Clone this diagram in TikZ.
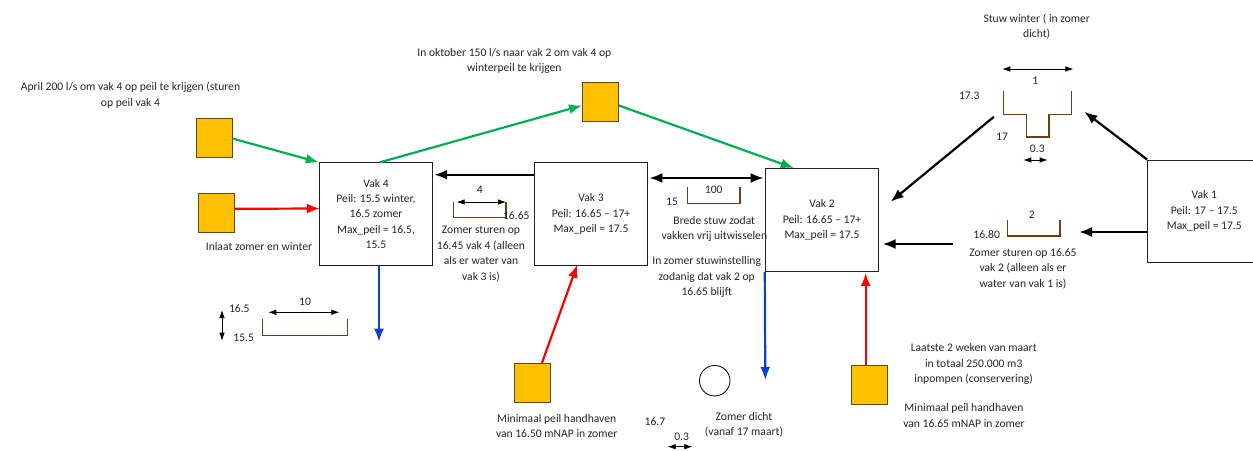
\documentclass[tikz,border=0pt]{standalone}
\usepackage{fontspec}
\setmainfont{Carlito}
\usetikzlibrary{arrows.meta,calc}
\definecolor{gold}{HTML}{FFC000}
\definecolor{goldline}{HTML}{5F4A10}
\definecolor{weirbrown}{HTML}{6E3F12}
\definecolor{greenflow}{HTML}{00B050}
\definecolor{blueflow}{HTML}{0F3FD0}
\definecolor{inkline}{HTML}{222222}
\tikzset{
  base/.style={font=\fontsize{11.6}{15.4}\selectfont,text=black!85},
  label/.style={base,inner sep=0pt,align=center,anchor=center},
  vak/.style={base,draw=inkline,line width=0.9pt,fill=white,inner sep=0pt,align=center,anchor=center,minimum width=113.5pt,minimum height=102.5pt},
  pump/.style={draw=goldline,line width=0.9pt,fill=gold,inner sep=0pt,anchor=center,minimum width=36pt,minimum height=39pt},
  flow/.style={line width=2.2pt,-{Latex[length=13pt,width=10pt]}},
  flowboth/.style={line width=2.2pt,{Latex[length=13pt,width=10pt]}-{Latex[length=13pt,width=10pt]}},
  dim/.style={black,line width=0.7pt,{Latex[length=8pt,width=5.5pt]}-{Latex[length=8pt,width=5.5pt]}},
  weir/.style={draw=weirbrown,line width=1.2pt,line join=miter}
}
\begin{document}
\begin{tikzpicture}[x=1pt,y=-1pt]
\path[clip,use as bounding box] (0,0) rectangle (1253,450);
% boxes
\node[vak] (v4) at (376,214) {Vak 4\\Peil: 15.5 winter,\\16.5 zomer\\Max\_peil = 16.5,\\15.5};
\node[vak] (v3) at (591,214) {Vak 3\\Peil: 16.65 -- 17+\\Max\_peil = 17.5};
\node[vak,minimum height=103pt] (v2) at (822,220) {Vak 2\\Peil: 16.65 -- 17+\\Max\_peil = 17.5};
\node[vak,minimum height=102pt] (v1) at (1204.3,211) {Vak 1\\Peil: 17 -- 17.5\\Max\_peil = 17.5};
% pumps
\node[pump] (s1) at (214,137.5) {};
\node[pump] (s2) at (216.7,212.8) {};
\node[pump] (s3) at (600.5,102) {};
\node[pump] (s4) at (532.3,382.8) {};
\node[pump] (s5) at (869,384.5) {};
\node[draw=black,line width=0.8pt,circle,fill=white,minimum size=30.5pt,inner sep=0pt] (c1) at (714.7,380.7) {};
% free ends
\coordinate (f1) at (379,341.7);
\coordinate (f2) at (765.3,380);
\coordinate (f3) at (953.3,244);
\coordinate (f4) at (1079,232);
\coordinate (f5) at (1084.3,111.7);
\coordinate (f6) at (994,116.7);
\coordinate (f7) at (890.7,201.7);
\coordinate (f8) at (882.7,244);
% flows
\draw[flow,greenflow] (s1.east) ++(0,1) -- (v4.north west);
\draw[flow,greenflow] ($(v4.north)+(4,0)$) -- ($(s3.west)+(0,3.5)$);
\draw[flow,greenflow] ($(s3.east)+(0,3.5)$) -- ($(v2.north west)+(29,0)$);
\draw[flow,red] (s2.east) ++(0,-4) -- ($(v4.west)+(1,-5.5)$);
\draw[flow,blueflow] ($(v4.south)+(3,0)$) -- (f1);
\draw[flow,black] ($(v3.west)+(0,-39.3)$) -- ($(v4.east)+(1,-39.3)$);
\draw[flowboth,black] ($(v3.east)+(1.2,-36)$) -- ($(v2.west)+(-1.2,-42)$);
\draw[flow,red] ($(s4.north)+(9.7,0)$) -- ($(v3.south)+(-13.7,-1)$);
\draw[flow,blueflow] (v2.south west) -- (f2);
\draw[flow,red] ($(s5.north)+(-3.3,0)$) -- ($(v2.south)+(43.7,1)$);
\draw[flow,black] (f3) -- (f8);
\draw[flow,black] ($(v1.west)+(0,21)$) -- (f4);
\draw[flow,black] (v1.north west) -- (f5);
\draw[flow,black] (f6) -- (f7);
% weirs
\draw[weir] (262.3,319.3) -- (262.3,335.3) -- (347.7,335.3) -- (347.7,319.3);
\draw[weir] (453.3,201.7) -- (453.3,217.7) -- (506,217.7) -- (506,201.7);
\draw[weir] (687.3,187.3) -- (687.3,203.3) -- (740,203.3) -- (740,187.3);
\draw[weir] (1007.3,220) -- (1007.3,236) -- (1060,236) -- (1060,220);
\draw[weir] (1003.7,91.3) -- (1003.7,114.3) -- (1026.3,114.3) -- (1026.3,137) -- (1049,137) -- (1049,114.3) -- (1071.7,114.3) -- (1071.7,91.3);
% dimension arrows
\coordinate (d1a) at (268.3,312.3); \coordinate (d1b) at (339.3,312.3);
\coordinate (d2a) at (222,310); \coordinate (d2b) at (222,340.7);
\coordinate (d3a) at (456.7,202); \coordinate (d3b) at (506,202);
\coordinate (d4a) at (1002.3,69); \coordinate (d4b) at (1073.3,69);
\coordinate (d5a) at (1023.3,160); \coordinate (d5b) at (1047.7,160);
\coordinate (d6a) at (667.7,446.7); \coordinate (d6b) at (692.3,446.7);
\draw[dim] (d1a) -- (d1b);
\draw[dim] (d2a) -- (d2b);
\draw[dim] (d3a) -- (d3b);
\draw[dim] (d4a) -- (d4b);
\draw[dim] (d5a) -- (d5b);
\draw[dim] (d6a) -- (d6b);
% labels
\node[label] (t1) at (130.5,95) {April 200 l/s om vak 4 op peil te krijgen (sturen\\op peil vak 4};
\node[label] (t2) at (259,247) {Inlaat zomer en winter};
\node[label] (t3) at (481,254) {Zomer sturen op\\16.45 vak 4 (alleen\\als er water van\\vak 3 is)};
\node[label] (t4) at (516.3,216) {16.65};
\node[label] (t5) at (479.7,190) {4};
\node[label] (t6) at (713.7,190) {100};
\node[label] (t7) at (672,202) {15};
\node[label] (t8) at (714.3,229) {Brede stuw zodat\\vakken vrij uitwisselen};
\node[label] (t9) at (706.7,277) {In zomer stuwinstelling\\zodanig dat vak 2 op\\16.65 blijft};
\node[label] (t10) at (556.7,426) {Minimaal peil handhaven\\van 16.50 mNAP in zomer};
\node[label] (t11) at (655,422) {16.7};
\node[label] (t12) at (681.7,437) {0.3};
\node[label] (t13) at (744,424.7) {Zomer dicht\\(vanaf 17 maart)};
\node[label] (t14) at (973.7,364) {Laatste 2 weken van maart\\in totaal 250.000 m3\\inpompen (conservering)};
\node[label] (t15) at (964,415.7) {Minimaal peil handhaven\\van 16.65 mNAP in zomer};
\node[label] (t16) at (1023,268.5) {Zomer sturen op 16.65\\vak 2 (alleen als er\\water van vak 1 is)};
\node[label] (t17) at (986.7,235) {16.80};
\node[label] (t18) at (1031.7,215) {2};
\node[label] (t19) at (969.3,96) {17.3};
\node[label] (t20) at (1002,137) {17};
\node[label] (t21) at (1037.3,149) {0.3};
\node[label] (t22) at (1035.3,81) {1};
\node[label] (t23) at (1036.7,26.5) {Stuw winter ( in zomer\\dicht)};
\node[label] (t24) at (514.3,61) {In oktober 150 l/s naar vak 2 om vak 4 op\\winterpeil te krijgen};
\node[label] (t25) at (305,302) {10};
\node[label] (t26) at (239.3,309) {16.5};
\node[label] (t27) at (243.7,338) {15.5};
\end{tikzpicture}
\end{document}
